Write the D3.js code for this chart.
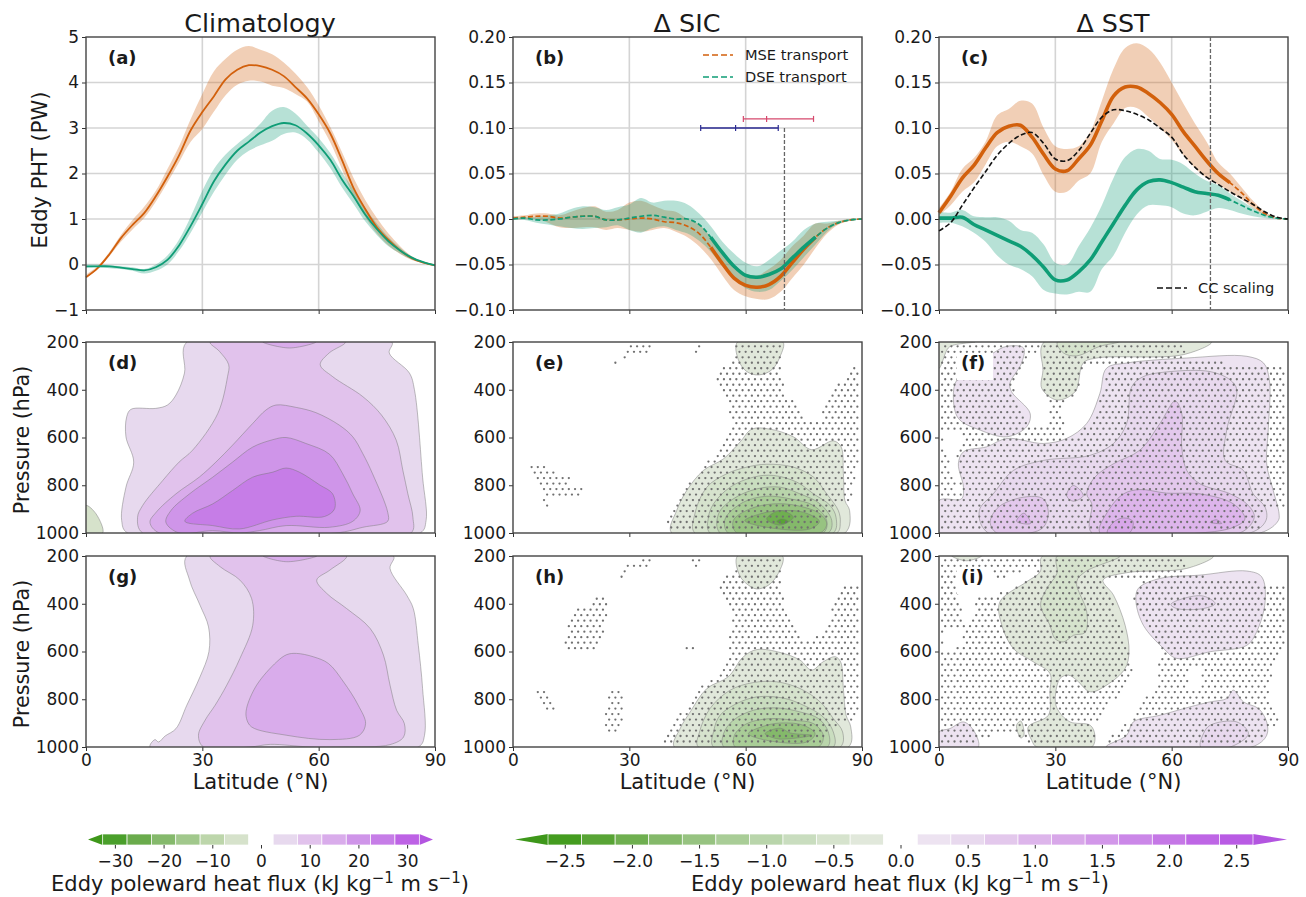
<!DOCTYPE html>
<html>
<head>
<meta charset="utf-8">
<script src="https://cdn.jsdelivr.net/npm/d3@7"></script>
<style>
  html, body { margin: 0; padding: 0; background: #fff; }
  text { font-family: "DejaVu Sans", sans-serif; fill: #1a1a1a; }
  .tick text { font-size: 17px; }
</style>
</head>
<body>
<svg id="chart" width="1306" height="897"></svg>
<script>
// latitudes shared by the transport curves
const latGrid = [0,3,6,9,12,15,18,21,24,27,30,33,36,39,42,45,48,51,54,57,60,63,66,69,72,75,78,81,84,87,90];

// panel a, climatology (PW)
const aMse = [-.28,-.08,.22,.58,.87,1.13,1.5,1.93,2.4,2.95,3.35,3.7,4.07,4.28,4.38,4.36,4.28,4.14,3.9,3.65,3.3,2.88,2.3,1.68,1.22,.82,.54,.31,.14,.04,-.02];
const aMseHi = [-.22,-.04,.27,.65,.98,1.27,1.62,2.1,2.6,3.2,3.75,4.25,4.52,4.72,4.8,4.72,4.62,4.44,4.2,3.9,3.5,3.02,2.47,1.9,1.42,1.02,.68,.4,.18,.05,-.01];
const aMseLo = [-.3,-.1,.18,.5,.77,1.02,1.38,1.8,2.25,2.7,2.98,3.36,3.72,3.95,4.04,4.02,3.93,3.88,3.75,3.58,3.15,2.68,2.1,1.5,1.05,.68,.42,.23,.1,.03,-.03];
const aDse = [-.04,-.04,-.04,-.07,-.1,-.13,-.06,.1,.42,.85,1.33,1.83,2.2,2.5,2.7,2.9,3.04,3.11,3.06,2.88,2.62,2.3,1.87,1.5,1.1,.78,.51,.31,.15,.05,-.02];
const aDseHi = [0,0,-.01,-.04,-.06,-.1,0,.2,.55,1.05,1.62,2.1,2.42,2.65,2.85,3.1,3.38,3.46,3.32,3.05,2.78,2.45,2.03,1.65,1.25,.9,.6,.37,.18,.06,-.01];
const aDseLo = [-.07,-.06,-.08,-.1,-.14,-.2,-.14,0,.3,.7,1.15,1.6,1.98,2.3,2.5,2.62,2.72,2.87,2.9,2.75,2.46,2.12,1.7,1.33,.95,.65,.4,.24,.11,.04,-.03];

// panel b, sea ice response (PW)
const bMse = [.001,.002,.003,.003,.001,.002,.003,.003,-.001,-.001,0,.001,0,-.003,-.004,-.008,-.016,-.031,-.049,-.065,-.073,-.075,-.072,-.063,-.048,-.033,-.02,-.01,-.004,-.001,0];
const bMseHi = [.003,.004,.006,.006,.004,.008,.012,.014,.008,.01,.018,.02,.015,.01,.008,0,-.006,-.02,-.036,-.05,-.06,-.062,-.055,-.045,-.03,-.018,-.005,-.005,-.002,0,0];
const bMseLo = [-.001,0,0,-.004,-.009,-.01,-.009,-.009,-.012,-.01,-.012,-.014,-.012,-.01,-.014,-.02,-.03,-.044,-.062,-.078,-.085,-.088,-.088,-.08,-.065,-.05,-.032,-.016,-.006,-.002,0];
const bDse = [0,.001,-.001,-.001,0,.002,.003,.003,-.001,-.001,.001,.003,.004,.002,0,0,-.006,-.02,-.037,-.052,-.062,-.064,-.061,-.055,-.043,-.031,-.02,-.01,-.004,-.001,0];
const bDseHi = [.001,.002,.002,.004,.006,.011,.014,.013,.01,.013,.016,.023,.018,.02,.02,.016,.006,-.008,-.025,-.038,-.048,-.052,-.045,-.035,-.025,-.012,-.005,-.003,-.002,0,0];
const bDseLo = [-.001,-.001,-.004,-.006,-.008,-.01,-.011,-.01,-.009,-.007,-.012,-.015,-.01,-.008,-.012,-.016,-.024,-.036,-.052,-.066,-.076,-.08,-.078,-.068,-.056,-.042,-.028,-.014,-.005,-.002,0];

// panel c, sst response (PW)
const cMse = [.007,.025,.045,.059,.078,.095,.102,.103,.09,.071,.055,.053,.066,.081,.108,.135,.145,.145,.138,.128,.115,.096,.08,.064,.05,.04,.029,.016,.006,.001,0];
const cMseHi = [.012,.03,.055,.067,.085,.114,.121,.13,.127,.1,.08,.077,.08,.096,.13,.165,.188,.193,.187,.172,.15,.127,.105,.085,.062,.05,.035,.02,.008,.002,0];
const cMseLo = [.004,.015,.03,.04,.06,.08,.085,.08,.072,.048,.03,.03,.042,.05,.085,.105,.122,.122,.112,.1,.087,.07,.056,.045,.038,.03,.022,.012,.004,.001,0];
const cDse = [.001,.001,.002,-.006,-.012,-.018,-.024,-.03,-.04,-.053,-.067,-.067,-.058,-.045,-.025,-.005,.015,.032,.041,.043,.04,.035,.03,.028,.026,.021,.015,.009,.004,.001,0];
const cDseHi = [.008,.007,.01,.003,.002,.002,-.002,-.012,-.015,-.028,-.048,-.05,-.03,-.01,.015,.045,.068,.077,.075,.066,.065,.06,.05,.042,.037,.028,.02,.012,.005,.001,0];
const cDseLo = [-.004,-.004,-.008,-.015,-.025,-.04,-.05,-.055,-.063,-.078,-.082,-.083,-.08,-.08,-.055,-.04,-.015,.005,.015,.015,.013,.006,.004,.008,.012,.01,.006,.003,.001,0,0];
const cCC = [-.013,-.004,.015,.034,.052,.07,.083,.092,.095,.083,.066,.064,.075,.094,.112,.12,.119,.115,.109,.1,.09,.071,.057,.046,.038,.03,.023,.016,.008,.002,0];

// range of latitudes where the response is significant (thick solid line)
const bSignificant = [51, 78];
const cSignificant = [0, 75];

// ensemble ranges in panel b: [lat start, lat middle, lat end, value]
const rangeRed = [59.4, 65.4, 77.5, 0.11];
const rangeBlue = [48.4, 57.4, 68.4, 0.10];
const iceEdgeLat = 70;

const linesA = [[aMseLo,aMseHi,aMse],[aDseLo,aDseHi,aDse]];
const linesB = [[bMseLo,bMseHi,bMse],[bDseLo,bDseHi,bDse]];
const linesC = [[cMseLo,cMseHi,cMse],[cDseLo,cDseHi,cDse]];

// colorbar bands, palest first
const climGreens = ["#d6e2cb","#bdd6ab","#a1c88c","#85b96c","#6aab4c","#4a9f2b"];
const climPurples = ["#e7d9ee","#e1c2ec","#d9aceb","#cf95e9","#c67de7","#bd62e5"];
const diffGreens = ["#e1e8db","#d6e3cd","#c9ddbf","#b9d5ab","#a9cd97","#97c381","#84b96a","#6faf50","#58a435","#449c1f"];
const diffPurples = ["#ede3f1","#e8d9ee","#e3c8ec","#ddb5eb","#d8a7e9","#d297e9","#cb87e8","#c577e6","#be66e5","#b95be4"];
const climTicks = [-30,-20,-10,0,10,20,30];
const diffTicks = [-2.5,-2,-1.5,-1,-.5,0,.5,1,1.5,2,2.5];

// filled contours: [band index (negative = green), [[lat, pressure], ...]]
const contoursD = [
  [-1, [[0,885],[2.6,920],[4.3,1000],[0,1000]]],
  [1, [[26,200],[25.4,330],[23.2,422],[21,464],[18,478],[11.6,482],[10.5,513],[10.3,597],[12.3,703],[10.3,808],[9.2,948],[10.7,1000],[86.2,1000],[87.7,948],[86.8,766],[84.7,400],[83.4,330],[78.2,246],[78.9,200]]],
  [2, [[32,200],[34.4,239],[36.8,295],[36.5,345],[34,499],[27.5,653],[24,703],[19.8,780],[14.6,885],[13.3,934],[14.6,1000],[83.8,1000],[84.3,934],[83,836],[81.7,737],[80,611],[76.2,506],[71.4,429],[63.6,345],[60.4,295],[62.7,246],[66.9,200]]],
  [3, [[45.6,200],[52.5,225],[59.3,200]]],
  [3, [[49,464],[54.2,474],[59.3,496],[65.3,548],[68.8,597],[71.4,668],[73.9,752],[77.8,913],[77.8,951],[71.4,976],[64.5,1000],[18.9,1000],[16.5,955],[18.1,913],[23.2,836],[29.2,766],[33.5,703],[37.8,632],[43,541],[46.4,485]]],
  [4, [[51.6,600],[56.7,625],[62.8,670],[66.2,752],[68.8,836],[70.7,906],[68.8,951],[62.8,976],[51.6,969],[44.7,990],[39.6,1000],[32.7,990],[24,1000],[20.6,955],[21.9,906],[26.7,836],[32.7,766],[37.8,703],[43,640],[48.2,609]]],
  [5, [[51.6,728],[55,745],[60.2,798],[63.6,836],[64.1,899],[61.5,931],[54.2,930],[48.2,945],[39.6,983],[32.7,969],[25.5,951],[27.5,917],[32.7,878],[37.8,822],[43,766],[48.2,745]]]
];
const contoursG = [
  [1, [[26,200],[26.7,301],[29.4,406],[31.6,497],[31.7,601],[29.4,706],[26,825],[23.2,923],[20.4,954],[18.7,979],[17.8,969],[16.5,1000],[85.7,1000],[87.3,951],[86.8,755],[85.7,574],[84.4,420],[82.7,364],[78.4,252],[79.3,200]]],
  [2, [[32,200],[34.6,245],[39.7,301],[42.7,378],[43,490],[39.7,629],[36.3,741],[33.3,825],[30.7,888],[29,951],[30.3,1000],[42.3,1000],[47.5,989],[57.8,1000],[66.4,1000],[78.4,990],[81.9,958],[82.1,902],[80.1,846],[78.4,741],[76.7,615],[73.3,504],[67.2,420],[62.1,357],[59.5,301],[62.9,259],[67.2,200]]],
  [3, [[45.7,200],[51.8,224],[59.5,200]]],
  [3, [[54.3,608],[58.6,622],[62.5,650],[66.4,727],[70.2,825],[72.1,902],[70.5,951],[62.9,969],[51.8,951],[42.7,916],[41.4,881],[41.4,839],[44,741],[49.2,643],[51.8,613]]]
];
const contoursE = [
  [-1, [[57.9,200],[58.1,274],[60.3,324],[63.3,338],[66.7,317],[68.9,260],[69.6,200]]],
  [-1, [[40.9,1000],[42.2,906],[44.8,822],[49.1,738],[54.3,689],[58.6,618],[61.6,565],[66.3,565],[72.3,597],[77,651],[82.6,614],[84.6,639],[85.2,752],[85.6,864],[86.8,906],[85.6,1000]]],
  [-2, [[46.9,1000],[46.9,920],[50,808],[55.1,752],[60.3,724],[65.4,712],[72.3,724],[77.5,766],[80.9,836],[83.9,906],[84.4,954],[83.5,1000]]],
  [-3, [[50.8,1000],[50.4,934],[51.7,878],[56,808],[62,766],[67.2,759],[73.2,787],[77.5,836],[81.8,885],[83.3,934],[82.6,1000]]],
  [-4, [[53.4,1000],[53,920],[56.8,857],[62.9,815],[68.9,808],[74,836],[79.2,878],[82.2,948],[81.3,1000]]],
  [-5, [[55.5,1000],[54.7,941],[59.4,871],[65.4,846],[71.5,857],[77.5,885],[80.9,948],[80,1000]]],
  [-6, [[56.8,948],[61.1,899],[67.2,878],[73.2,885],[79.2,920],[80.9,962],[79.2,1000],[57.7,1000]]],
  [-7, [[59.8,948],[63.7,920],[68.9,906],[74.9,913],[79,951],[76.6,983],[65.4,976]]],
  [-8, [[65.4,941],[68.9,906],[72.3,934],[68.9,967]]],
  [-9, [[68,951],[69.3,941],[71,951],[69.3,962]]]
];
const contoursH = [
  [-1, [[57.9,200],[58.4,280],[60.7,322],[62.9,338],[65.9,322],[68.4,273],[69.5,200]]],
  [-1, [[41.6,1000],[43.1,923],[45.7,853],[50,755],[55.5,706],[59.4,622],[62.9,592],[68.9,604],[74,636],[77,678],[80,643],[83.1,622],[84.5,644],[85.2,755],[85.9,867],[87.1,916],[86.5,1000]]],
  [-2, [[47.8,1000],[48.1,937],[50.8,839],[56,762],[62,730],[68,727],[74,755],[79.2,811],[82.6,881],[85,937],[84.4,1000]]],
  [-3, [[51.7,1000],[51.8,930],[53.4,867],[57.7,818],[62.9,790],[69.7,795],[74.9,825],[80,874],[82.6,937],[82.6,1000]]],
  [-4, [[54.4,1000],[54.3,944],[56.8,888],[62,846],[68,836],[74,853],[78.8,881],[81.3,937],[81.1,1000]]],
  [-5, [[57.3,1000],[57.1,951],[60.3,902],[66.3,881],[72.3,888],[77.5,902],[80,951],[78.8,1000]]],
  [-6, [[60.7,944],[65.4,909],[69.7,899],[74.9,909],[77.9,944],[75.8,979],[65.4,972]]],
  [-7, [[65,944],[68.9,921],[71.5,941],[77,951],[71.5,965],[68,965]]]
];
const contoursF = [
  [-1, [[0,200],[9.3,200],[4,212],[2.4,225],[.4,302],[0,310]]],
  [-1, [[27.1,200],[26.8,320],[26.5,394],[30.4,443],[35.1,408],[37.2,288],[40.7,267],[63,253],[70.3,200]]],
  [-2, [[30.5,200],[32.1,246],[35.5,258],[41.5,218],[46.3,200]]],
  [1, [[17.5,218],[21.8,225],[21.3,288],[18.3,373],[18.7,408],[23.5,499],[22.6,555],[17.5,597],[10.6,569],[5,520],[3.7,429],[4.6,359],[8.9,310],[14,246]]],
  [1, [[79.4,260],[83.7,288],[85.2,359],[84.9,569],[84.5,710],[86.2,822],[87.7,920],[87.5,948],[82.8,1000],[0,1000],[0,864],[5.8,857],[6.3,808],[5,710],[6.3,660],[12.3,639],[17.5,604],[26.9,625],[32.9,604],[38.1,541],[41.5,415],[43.2,310],[48.4,288],[63.9,267]]],
  [2, [[59.6,324],[69.9,324],[75.1,359],[76.8,400],[74.2,569],[73.8,696],[78.5,738],[81,836],[84.1,892],[84.3,948],[80.2,1000],[12.7,1000],[10.4,906],[14,836],[19.2,738],[26.9,696],[38.9,675],[45,625],[48.4,541],[49.7,387],[52.7,345]]],
  [3, [[60.9,447],[62.6,499],[62.6,640],[63.9,738],[67.3,794],[75.1,836],[79.8,885],[81.3,934],[77.6,1000],[39.4,1000],[39.4,878],[38.1,836],[40.2,766],[45,710],[51.8,653],[57,541]]],
  [3, [[13.2,955],[15.3,892],[21.8,850],[26.9,857],[28.2,920],[26.9,976],[23.5,1000],[14.9,1000]]],
  [3, [[32.9,843],[34.6,801],[37.2,843],[34.6,867]]],
  [4, [[41.5,1000],[43.7,906],[47.6,836],[51.8,818],[58.7,833],[67.3,836],[75.9,878],[78.9,941],[75.9,976],[67.3,1000]]],
  [4, [[20,951],[21.9,917],[23.6,960]]],
  [5, [[43.4,1000],[45,955],[47.6,937],[50,951],[49.1,1000]]],
  [5, [[69.9,955],[71.6,945],[72.9,960]]]
];
const contoursI = [
  [-1, [[3.3,200],[7.1,220],[11,200]]],
  [-1, [[26.7,200],[26.1,266],[22.6,308],[15.7,392],[16.2,490],[19.2,588],[24.3,643],[28.6,692],[28.6,769],[28.2,867],[23,916],[23.9,972],[25.2,1000],[39.4,1000],[40.2,951],[39,909],[33.8,895],[31,853],[30,811],[31.2,713],[33.4,699],[35.5,720],[39,769],[43.2,741],[48,671],[49,601],[48,490],[45,364],[42.3,301],[48.4,270],[63.9,252],[70.8,200]]],
  [-1, [[20,909],[21.1,891],[21.9,951],[21.1,962]]],
  [-2, [[30.5,200],[30.4,273],[27.8,336],[26.2,406],[28.6,490],[29.9,546],[32.1,560],[34.7,532],[37.7,520],[38.1,434],[35.5,308],[37.7,266],[46.7,200]]],
  [1, [[51.4,336],[57,294],[67.3,280],[79.4,263],[83.2,287],[84.1,392],[81.9,518],[79.4,574],[69.9,601],[61.3,629],[57.9,587],[52.7,490],[50.8,392]]],
  [2, [[59.8,403],[63,378],[68.2,368],[71.2,399],[68.2,420],[61.3,420]]],
  [1, [[43.1,1000],[48.4,951],[50.1,895],[57,867],[64.7,832],[69.9,811],[74.2,797],[75.9,762],[78.5,811],[82.4,839],[84.5,895],[84.5,951],[80.7,1000]]],
  [2, [[67.5,1000],[68.2,944],[69.9,909],[76.8,895],[79.8,944],[75.1,1000]]],
  [1, [[0,1000],[0,937],[2.8,923],[6.3,895],[8.9,930],[10.1,1000]]]
];

// stippled (significant) regions and the gaps cut out of them, [lat, pressure]
const hatchE = [
  [[39.6,1000],[40,913],[44.8,801],[47.4,752],[50,703],[53,660],[55.5,597],[56.4,527],[55.1,443],[52.1,359],[53.4,310],[56,281],[57.3,218],[69.3,211],[69.7,415],[72.3,450],[74.5,520],[79.2,527],[80.5,450],[81.8,400],[84.8,359],[86.5,310],[89.5,310],[89.5,682],[88.2,780],[86.9,878],[83.9,885],[80.9,934],[77.5,990]],
  [[26.3,288],[28.9,239],[29.3,215],[35.5,215],[34.9,249],[28.5,267],[25.9,295]],
  [[46.5,215],[48.2,215],[47.8,249],[46.9,249]],
  [[4.4,703],[9.4,703],[9.7,745],[14.5,752],[14.7,794],[19,801],[18.2,850],[9.5,857],[9.1,899],[7.4,899],[7.4,836],[6,801],[4.8,752],[4.4,724]]
];
const hatchH = [
  [[38.3,993],[40.5,916],[45.7,811],[47.8,755],[52.5,706],[55.5,615],[56.4,448],[53,364],[53,315],[56,273],[57.7,217],[69.3,217],[69.7,406],[71.5,455],[73.6,518],[75.8,553],[79.2,532],[81.8,448],[83.9,364],[86.5,315],[89.5,315],[89.5,671],[88.7,895],[85.2,895],[81.8,923],[78.8,986]],
  [[28.9,224],[36.2,210],[35.8,252],[29.3,252],[28.5,294],[26.6,294]],
  [[45.7,217],[48.7,217],[48.2,252],[46.5,252]],
  [[20.3,364],[24.2,364],[24.2,455],[22.9,546],[21.6,595],[13,595],[14.3,490],[16,406],[19.9,406]],
  [[43.9,567],[47.4,567],[47.4,595],[44.4,595]],
  [[5.7,753],[8.7,753],[10.8,846],[7.8,846]],
  [[25,753],[28,753],[28.5,888],[27.6,944],[23.3,944],[24.2,811]]
];
const hatchF = [[[.4,215],[63.5,215],[63.5,274],[83.7,302],[89.5,302],[89.5,892],[83.7,892],[82.8,990],[.4,990]]];
const holesF = [
  [[23,253],[26.9,232],[26.9,429],[28.6,492],[27.8,555],[23,541],[19.2,415],[21.8,288]],
  [[37.2,288],[40.7,288],[43.7,310],[40.7,499],[36.4,583],[32.5,597],[32.5,527],[30.4,485],[35.5,422]],
  [[1.5,569],[6.3,583],[4.6,670],[5.8,819],[4.5,819],[2.9,710],[.7,640]]
];
const hatchI = [[[.4,217],[63.5,217],[63.5,280],[83.2,310],[89.5,315],[89.5,560],[86.3,643],[85,811],[87.5,895],[84.5,951],[80,990],[.4,990]]];
const holesI = [
  [[4.6,308],[15.7,294],[23,252],[25.6,238],[22.6,301],[15.7,357],[9.3,357],[8.4,490],[6.7,497],[5,364]],
  [[1.1,504],[5.8,504],[5.8,574],[1.1,601]],
  [[42.3,301],[51.8,294],[50.1,392],[52.7,490],[57,601],[56.1,769],[51.8,797],[49.3,881],[43.2,979],[40.2,979],[39.8,909],[45,811],[50.1,713],[49.3,615],[47.1,490],[44.1,364]],
  [[64.7,657],[67.3,657],[67.3,755],[64.7,755]],
  [[10.1,965],[18.3,937],[24.3,990],[10.1,990]]
];

const mseColour = "#d2600c", dseColour = "#0f9d76";
const svg = d3.select("#chart");
const colX = [86, 513, 939], panelW = 349;
const latTicks = [0, 30, 60, 90];
const pressureTicks = [200, 400, 600, 800, 1000];
const minus = (s) => String(s).replace("-", "\u2212");

function addAxes(g, x, y, yTicks, yFormat, showLatLabels, h) {
    g.append("g").attr("transform", "translate(0," + h + ")")
        .call(d3.axisBottom(x).tickValues(latTicks).tickSize(4).tickSizeOuter(0)
            .tickFormat((d) => showLatLabels ? d : ""));
    g.append("g")
        .call(d3.axisLeft(y).tickValues(yTicks).tickSize(4).tickSizeOuter(0).tickFormat(yFormat));
    g.selectAll(".domain").remove();
    g.selectAll(".tick line").attr("stroke", "#333").attr("stroke-width", 1);
    g.append("rect").attr("width", panelW).attr("height", h)
        .attr("fill", "none").attr("stroke", "#444").attr("stroke-width", 1.4);
}

function panelLabel(g, txt) {
    g.append("rect").attr("x", 18).attr("y", 11).attr("width", 36).attr("height", 27).attr("fill", "#fff");
    g.append("text").attr("x", 22).attr("y", 27).attr("font-size", 18).attr("font-weight", "bold").text(txt);
}

function linePanel(col, name, domain, yTicks, yFormat, series, width, significant) {
    const h = 273;
    const g = svg.append("g").attr("transform", "translate(" + colX[col] + ",37)");
    const x = d3.scaleLinear().domain([0, 90]).range([0, panelW]);
    const y = d3.scaleLinear().domain(domain).range([h, 0]);
    // grid
    g.append("g").selectAll("line").data(latTicks.slice(1, 3)).enter().append("line")
        .attr("x1", (d) => x(d)).attr("x2", (d) => x(d)).attr("y1", 0).attr("y2", h)
        .attr("stroke", "#d4d4d4").attr("stroke-width", 1.6);
    g.append("g").selectAll("line").data(yTicks.slice(1, -1)).enter().append("line")
        .attr("x1", 0).attr("x2", panelW).attr("y1", (d) => y(d)).attr("y2", (d) => y(d))
        .attr("stroke", "#d4d4d4").attr("stroke-width", 1.6);
    const colours = [mseColour, dseColour];
    series.forEach((s, k) => {
        const area = d3.area().x((d, i) => x(latGrid[i])).y0((d, i) => y(s[0][i])).y1((d) => y(d))
            .curve(d3.curveCatmullRom);
        g.append("path").attr("d", area(s[1])).attr("fill", colours[k]).attr("fill-opacity", 0.3);
    });
    const line = d3.line().x((d) => x(d[0])).y((d) => y(d[1])).curve(d3.curveCatmullRom);
    series.forEach((s, k) => {
        const pts = latGrid.map((lat, i) => [lat, s[2][i]]);
        if (significant) {
            g.append("path").attr("d", line(pts)).attr("fill", "none").attr("stroke", colours[k])
                .attr("stroke-width", 1.7).attr("stroke-dasharray", "5,2.5");
            const strong = pts.filter((p) => p[0] >= significant[0] && p[0] <= significant[1]);
            g.append("path").attr("d", line(strong)).attr("fill", "none").attr("stroke", colours[k])
                .attr("stroke-width", width);
        } else {
            g.append("path").attr("d", line(pts)).attr("fill", "none").attr("stroke", colours[k])
                .attr("stroke-width", width);
        }
    });
    addAxes(g, x, y, yTicks, yFormat, false, h);
    panelLabel(g, name);
    return {g: g, x: x, y: y, line: line};
}

function contourPanel(col, top, name, contours, greens, purples, hatch, holes, showLat) {
    const h = 191;
    const g = svg.append("g").attr("transform", "translate(" + colX[col] + "," + top + ")");
    const x = d3.scaleLinear().domain([0, 90]).range([0, panelW]);
    const y = d3.scaleLinear().domain([200, 1000]).range([0, h]);
    const clipId = "clip" + col + top;
    g.append("clipPath").attr("id", clipId).append("rect").attr("width", panelW).attr("height", h);
    const inner = g.append("g").attr("clip-path", "url(#" + clipId + ")");
    const outline = d3.line().x((d) => x(d[0])).y((d) => y(d[1])).curve(d3.curveCatmullRomClosed.alpha(0.5));
    inner.selectAll("path").data(contours).enter().append("path")
        .attr("d", (d) => outline(d[1]))
        .attr("fill", (d) => d[0] < 0 ? greens[-d[0] - 1] : purples[d[0] - 1])
        .attr("stroke", "#777").attr("stroke-opacity", 0.6).attr("stroke-width", 0.8);
    if (hatch) {
        const dots = [];
        d3.range(218, 1000, 23).forEach((p, row) => {
            d3.range(row % 2 ? 0.8 : 0, 90, 1.6).forEach((lat) => {
                const inside = hatch.some((poly) => d3.polygonContains(poly, [lat, p]));
                const cut = (holes || []).some((poly) => d3.polygonContains(poly, [lat, p]));
                if (inside && !cut) dots.push([lat, p]);
            });
        });
        inner.append("g").selectAll("circle").data(dots).enter().append("circle")
            .attr("cx", (d) => x(d[0])).attr("cy", (d) => y(d[1])).attr("r", 1.15)
            .attr("fill", "#707070");
    }
    addAxes(g, x, y, pressureTicks, (d) => d, showLat, h);
    panelLabel(g, name);
}

function colorbar(x0, x1, tipL, tipR, greens, purples, tipGreen, tipPurple, step, ticks, fmt, centre) {
    const y0 = 834, y1 = 845;
    const n = greens.length;
    const half = step * (n + 0.5);
    const x = d3.scaleLinear().domain([-half, half]).range([x0, x1]);
    const bands = greens.slice().reverse().concat(["#ffffff"], purples);
    const g = svg.append("g");
    g.append("polygon").attr("points", [[tipL, (y0 + y1) / 2], [x0, y0], [x0, y1]].join(" ")).attr("fill", tipGreen);
    g.append("polygon").attr("points", [[tipR, (y0 + y1) / 2], [x1, y0], [x1, y1]].join(" ")).attr("fill", tipPurple);
    g.selectAll("rect").data(bands).enter().append("rect")
        .attr("x", (d, i) => x(-half + i * step))
        .attr("width", x(step) - x(0))
        .attr("y", y0).attr("height", y1 - y0)
        .attr("fill", (d) => d).attr("stroke", "#fff").attr("stroke-width", 0.7);
    const ax = g.append("g").attr("transform", "translate(0," + y1 + ")")
        .call(d3.axisBottom(x).tickValues(ticks).tickSize(3.5).tickSizeOuter(0).tickFormat(fmt));
    ax.select(".domain").remove();
    ax.selectAll(".tick text").attr("dy", "0.9em");
    ax.selectAll(".tick line").attr("stroke", "#333");
    const t = g.append("text").attr("x", centre).attr("y", 891).attr("text-anchor", "middle").attr("font-size", 21);
    t.append("tspan").text("Eddy poleward heat flux (kJ kg");
    t.append("tspan").attr("dy", -8).attr("font-size", 15).text("\u22121");
    t.append("tspan").attr("dy", 8).text(" m s");
    t.append("tspan").attr("dy", -8).attr("font-size", 15).text("\u22121");
    t.append("tspan").attr("dy", 8).text(")");
}

function drawText(x, y, txt, size, rotate) {
    const t = svg.append("text").attr("text-anchor", "middle").attr("font-size", size).text(txt);
    if (rotate) t.attr("transform", "translate(" + x + "," + y + ") rotate(-90)");
    else t.attr("x", x).attr("y", y);
}

// top row
const fmt2 = (d) => minus(d3.format(".2f")(d));
linePanel(0, "(a)", [-1, 5], [-1, 0, 1, 2, 3, 4, 5], (d) => minus(d), linesA, 1.8, null);
const pb = linePanel(1, "(b)", [-0.1, 0.2], [-.1, -.05, 0, .05, .1, .15, .2], fmt2, linesB, 3.6, bSignificant);
const pc = linePanel(2, "(c)", [-0.1, 0.2], [-.1, -.05, 0, .05, .1, .15, .2], fmt2, linesC, 3.6, cSignificant);

// ensemble ranges and ice edge
[[rangeRed, "#d6486c"], [rangeBlue, "#2a2a92"]].forEach((r) => {
    const v = r[0], yy = pb.y(v[3]);
    pb.g.append("line").attr("x1", pb.x(v[0])).attr("x2", pb.x(v[2])).attr("y1", yy).attr("y2", yy)
        .attr("stroke", r[1]).attr("stroke-width", 1.4);
    [v[0], v[1], v[2]].forEach((lat) => {
        pb.g.append("line").attr("x1", pb.x(lat)).attr("x2", pb.x(lat)).attr("y1", yy - 3).attr("y2", yy + 3)
            .attr("stroke", r[1]).attr("stroke-width", 1.2);
    });
});
pb.g.append("line").attr("x1", pb.x(iceEdgeLat)).attr("x2", pb.x(iceEdgeLat))
    .attr("y1", pb.y(0.1)).attr("y2", pb.y(-0.1))
    .attr("stroke", "#666").attr("stroke-width", 1.3).attr("stroke-dasharray", "4,2");
pc.g.append("line").attr("x1", pc.x(iceEdgeLat)).attr("x2", pc.x(iceEdgeLat))
    .attr("y1", pc.y(0.2)).attr("y2", pc.y(-0.1))
    .attr("stroke", "#666").attr("stroke-width", 1.3).attr("stroke-dasharray", "4,2");
pc.g.append("path").attr("d", pc.line(latGrid.map((lat, i) => [lat, cCC[i]])))
    .attr("fill", "none").attr("stroke", "#111").attr("stroke-width", 1.6).attr("stroke-dasharray", "5,2.5");

// legends
[["MSE transport", mseColour, 703, 55, 745], ["DSE transport", dseColour, 703, 77, 745], ["CC scaling", "#111", 1157, 288, 1198]]
    .forEach((l) => {
        svg.append("line").attr("x1", l[2]).attr("x2", l[2] + 30).attr("y1", l[3]).attr("y2", l[3])
            .attr("stroke", l[1]).attr("stroke-width", 1.7).attr("stroke-dasharray", "6,3");
        svg.append("text").attr("x", l[4]).attr("y", l[3] + 5).attr("font-size", 14.6).text(l[0]);
    });

// lower rows
contourPanel(0, 342, "(d)", contoursD, climGreens, climPurples, null, null, false);
contourPanel(1, 342, "(e)", contoursE, diffGreens, diffPurples, hatchE, null, false);
contourPanel(2, 342, "(f)", contoursF, diffGreens, diffPurples, hatchF, holesF, false);
contourPanel(0, 556, "(g)", contoursG, climGreens, climPurples, null, null, true);
contourPanel(1, 556, "(h)", contoursH, diffGreens, diffPurples, hatchH, null, true);
contourPanel(2, 556, "(i)", contoursI, diffGreens, diffPurples, hatchI, holesI, true);

// titles and axis labels
drawText(260, 32, "Climatology", 25.4);
drawText(687, 32, "\u0394 SIC", 25.4);
drawText(1113, 32, "\u0394 SST", 25.4);
drawText(47, 170, "Eddy PHT (PW)", 21, true);
drawText(28.5, 440, "Pressure (hPa)", 20.7, true);
drawText(28.5, 654, "Pressure (hPa)", 20.7, true);
colX.forEach((cx) => drawText(cx + panelW / 2, 789, "Latitude (\u00b0N)", 21));

// colorbars
colorbar(102.7, 419.3, 88, 433, climGreens, climPurples, "#3e971a", "#b355e0", 5, climTicks, (d) => minus(d), 260);
colorbar(548, 1253, 515, 1287, diffGreens, diffPurples, "#3e971a", "#b355e0", 0.25, diffTicks, (d) => minus(d3.format(".1f")(d)), 900);
</script>
</body>
</html>
